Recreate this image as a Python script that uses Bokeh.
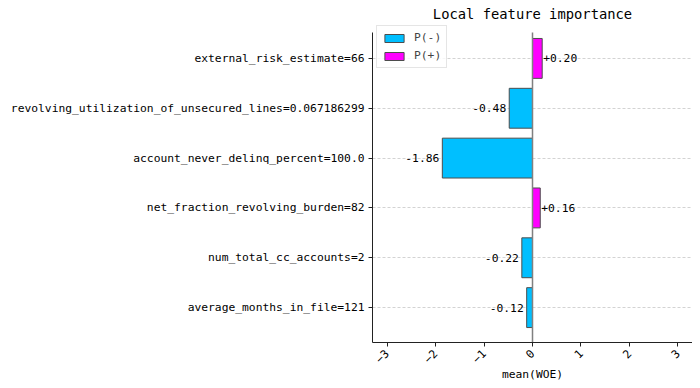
import math
from bokeh.plotting import figure
from bokeh.models import Range1d, FixedTicker, ColumnDataSource, Legend, LegendItem, Label
from bokeh.core.properties import value
from bokeh.embed import file_html
from bokeh.resources import INLINE

title_text = "Local feature importance"
features = [
    "external_risk_estimate=66",
    "revolving_utilization_of_unsecured_lines=0.067186299",
    "account_never_delinq_percent=100.0",
    "net_fraction_revolving_burden=82",
    "num_total_cc_accounts=2",
    "average_months_in_file=121",
]
values = [0.20, -0.48, -1.86, 0.16, -0.22, -0.12]
x_ticks = [-3, -2, -1, 0, 1, 2, 3]

FONT = "DejaVu Sans Mono"
FS = "11.3px"
NEG_COLOR = "#00BFFF"
POS_COLOR = "#FF00FF"

n = len(features)
ypos = [n - 1 - i for i in range(n)]

neg = dict(y=[ypos[i] for i, v in enumerate(values) if v < 0],
           v=[v for v in values if v < 0],
           lab=[f"{v:+.2f}" for v in values if v < 0])
pos = dict(y=[ypos[i] for i, v in enumerate(values) if v >= 0],
           v=[v for v in values if v >= 0],
           lab=[f"{v:+.2f}" for v in values if v >= 0])
neg_src = ColumnDataSource(neg)
pos_src = ColumnDataSource(pos)

# axes area (visible spines) and extended frame holding the title
Y_LO, Y_HI = -0.7, 5.52
AXIS_H = 310          # pixel height of the visible axes area
TOP_EXTRA = 28        # extra frame space above it for the title
FW = 320
FH = AXIS_H + TOP_EXTRA
Y_END = Y_LO + FH * (Y_HI - Y_LO) / AXIS_H

p = figure(width=684, height=378, output_backend="svg", toolbar_location=None,
           x_range=Range1d(-3.3, 3.3), y_range=Range1d(Y_LO, Y_END),
           frame_width=FW, frame_height=FH,
           min_border_left=372, min_border_right=0, min_border_top=4, min_border_bottom=36)
p.outline_line_color = None
p.background_fill_color = "white"
p.border_fill_color = "white"

# title
p.add_layout(Label(x=FW / 2, y=FH - 9, x_units="screen", y_units="screen",
                   text=title_text, text_align="center", text_baseline="middle",
                   text_font=FONT, text_font_size="13.8px", text_color="black"))

# grid
p.xgrid.grid_line_color = None
p.ygrid.grid_line_color = "#d3d3d3"
p.ygrid.grid_line_dash = "3 2"
p.ygrid.grid_line_width = 1

# bars
r_neg = p.hbar(y="y", left=0, right="v", height=0.8, source=neg_src,
               fill_color=NEG_COLOR, line_color="#4d4d4d", line_width=1)
r_pos = p.hbar(y="y", left=0, right="v", height=0.8, source=pos_src,
               fill_color=POS_COLOR, line_color="#4d4d4d", line_width=1)

# zero line spanning the axes area
p.segment(x0=[0], y0=[Y_LO], x1=[0], y1=[Y_HI], line_color="#808080", line_width=1.5)

# value labels
p.text(x="v", y="y", text="lab", source=neg_src, text_align="right", text_baseline="middle",
       x_offset=-3, text_font=value(FONT), text_font_size=FS, text_color="black")
p.text(x="v", y="y", text="lab", source=pos_src, text_align="left", text_baseline="middle",
       x_offset=1, text_font=value(FONT), text_font_size=FS, text_color="black")

# axes
p.yaxis.ticker = FixedTicker(ticks=ypos)
p.yaxis.major_label_overrides = {ypos[i]: features[i] for i in range(n)}
p.yaxis.bounds = (Y_LO, Y_HI)
p.xaxis.ticker = FixedTicker(ticks=x_ticks)
p.xaxis.major_label_orientation = math.pi / 4
p.xaxis.axis_label = "mean(WOE)"
for ax in (p.xaxis[0], p.yaxis[0]):
    ax.major_label_text_font = FONT
    ax.major_label_text_font_size = FS
    ax.major_label_text_color = "black"
    ax.axis_label_text_font = FONT
    ax.axis_label_text_font_size = FS
    ax.axis_label_text_font_style = "normal"
    ax.axis_label_text_color = "black"
    ax.minor_tick_line_color = None
    ax.major_tick_out = 4
    ax.major_tick_in = 0
    ax.axis_line_color = "#222222"
    ax.major_tick_line_color = "#222222"
p.xaxis.axis_label_standoff = -2
p.yaxis.major_label_standoff = 4

legend = Legend(items=[LegendItem(label="P(-)", renderers=[r_neg]),
                       LegendItem(label="P(+)", renderers=[r_pos])],
                location=(4, 274))
legend.margin = 0
legend.padding = 5
legend.spacing = 5
legend.glyph_width = 24
legend.glyph_height = 10
legend.label_text_font = FONT
legend.label_text_font_size = FS
legend.label_height = 13
legend.label_standoff = 8
legend.border_line_color = "#cccccc"
legend.background_fill_alpha = 0.8
p.add_layout(legend)

open("out.html", "w").write(file_html(p, INLINE))
